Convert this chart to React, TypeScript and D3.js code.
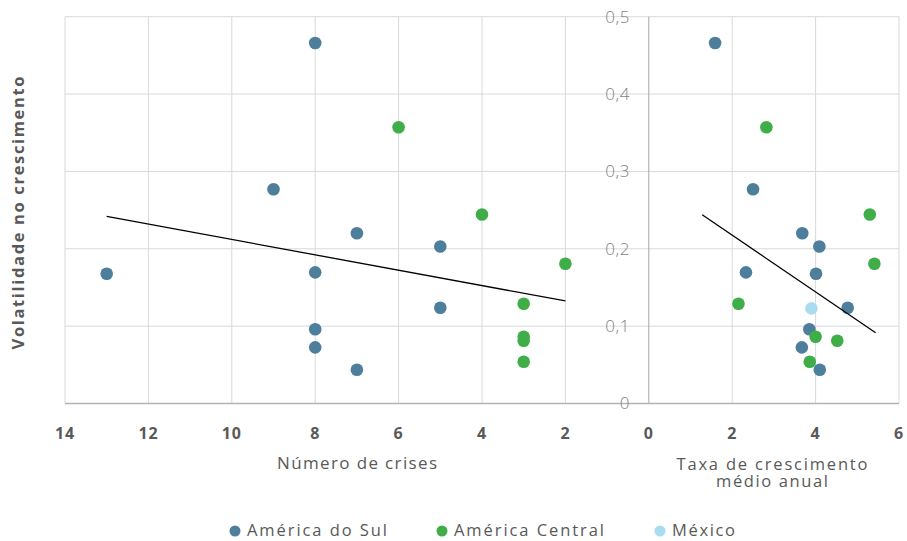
import React from "react";
import * as d3 from "d3";

// Volatility of growth vs. number of crises (left, reversed) and average annual growth (right)
const southCrises = [8, 9, 7, 5, 8, 13, 5, 8, 8, 7];
const southGrowth = [1.59, 2.5, 3.68, 4.09, 2.33, 4.01, 4.77, 3.85, 3.67, 4.1];
const southVol = [0.466, 0.277, 0.22, 0.203, 0.1695, 0.1677, 0.1238, 0.096, 0.0726, 0.0437];

const centralCrises = [6, 4, 2, 3, 3, 3, 3];
const centralGrowth = [2.82, 5.3, 5.41, 2.15, 4.0, 4.52, 3.86];
const centralVol = [0.357, 0.2444, 0.1806, 0.129, 0.0862, 0.0811, 0.054];

const mexicoGrowth = [3.9];
const mexicoVol = [0.123];

// Linear trend endpoints for each panel
const crisesTrendX = [13, 2];
const crisesTrendY = [0.2418, 0.1326];
const growthTrendX = [1.28, 5.44];
const growthTrendY = [0.244, 0.0915];

const xTicks = [-14, -12, -10, -8, -6, -4, -2, 0, 2, 4, 6];
const yTicks = [0, 0.1, 0.2, 0.3, 0.4, 0.5];
const yTickLabels = ["0", "0,1", "0,2", "0,3", "0,4", "0,5"];

const seriesNames = ["América do Sul", "América Central", "México"];
const seriesColors = ["#4d7f9c", "#3fae49", "#aadcf0"];

const W = 907;
const H = 541;
const FONT = "'Open Sans', 'DejaVu Sans', sans-serif";

export default function App() {
  const x = d3.scaleLinear().domain([-14, 6]).range([65, 899]);
  const y = d3.scaleLinear().domain([0, 0.5]).range([403.5, 16.7]);
  const line = d3
    .line<[number, number]>()
    .x((d) => x(d[0]))
    .y((d) => y(d[1]));

  const left = (c: number[], v: number[]) => c.map((d, i) => [-d, v[i]] as [number, number]);
  const right = (g: number[], v: number[]) => g.map((d, i) => [d, v[i]] as [number, number]);

  const groups: { pts: [number, number][]; color: string }[] = [
    { pts: [...left(southCrises, southVol), ...right(southGrowth, southVol)], color: seriesColors[0] },
    { pts: [...left(centralCrises, centralVol), ...right(centralGrowth, centralVol)], color: seriesColors[1] },
    { pts: right(mexicoGrowth, mexicoVol), color: seriesColors[2] },
  ];

  const trendLeft = crisesTrendX.map((d, i) => [-d, crisesTrendY[i]] as [number, number]);
  const trendRight = growthTrendX.map((d, i) => [d, growthTrendY[i]] as [number, number]);

  const legendX = [235, 442, 660];
  const legendLen = [140, 150, 63];

  return (
    <svg
      width={W}
      height={H}
      style={{ position: "absolute", left: 0, top: 0, background: "#fff" }}
      fontFamily={FONT}
    >
      {/* grid */}
      {xTicks
        .filter((t) => t !== 0)
        .map((t) => (
          <line key={"gx" + t} x1={x(t)} x2={x(t)} y1={y(0.5)} y2={y(0)} stroke="#d9d9d9" strokeWidth={1} />
        ))}
      {yTicks
        .filter((t) => t !== 0)
        .map((t) => (
          <line key={"gy" + t} x1={x(-14)} x2={x(6)} y1={y(t)} y2={y(t)} stroke="#d9d9d9" strokeWidth={1} />
        ))}
      {/* axes */}
      <line x1={x(0)} x2={x(0)} y1={y(0.5)} y2={y(0)} stroke="#a6a6a6" strokeWidth={1} />
      <line x1={x(-14)} x2={x(6)} y1={y(0)} y2={y(0)} stroke="#b3b3b3" strokeWidth={1.3} />

      {/* y tick labels */}
      {yTicks.map((t, i) => (
        <text
          key={"yl" + t}
          x={630}
          y={y(t)}
          dy="0.35em"
          textAnchor="end"
          fontSize={17}
          fontWeight={300}
          letterSpacing={0.6}
          fill="#7f7f7f"
        >
          {yTickLabels[i]}
        </text>
      ))}
      {/* x tick labels */}
      {xTicks.map((t) => (
        <text
          key={"xl" + t}
          x={x(t)}
          y={433}
          dy="0.35em"
          textAnchor="middle"
          fontSize={16}
          fontWeight={700}
          letterSpacing={0.8}
          fill="#595959"
        >
          {Math.abs(t)}
        </text>
      ))}

      {/* points */}
      {groups.map((g, gi) =>
        g.pts.map((p, i) => (
          <circle key={"p" + gi + "-" + i} cx={x(p[0])} cy={y(p[1])} r={6.3} fill={g.color} />
        ))
      )}

      {/* trend lines */}
      <path d={line(trendLeft) || ""} fill="none" stroke="#000" strokeWidth={1.3} />
      <path d={line(trendRight) || ""} fill="none" stroke="#000" strokeWidth={1.3} />

      {/* axis titles */}
      <text
        transform="translate(18,213) rotate(-90)"
        textAnchor="middle"
        dy="0.35em"
        fontSize={16.5}
        fontWeight={700}
        fill="#595959"
        textLength={273}
        lengthAdjust="spacing"
      >
        Volatilidade no crescimento
      </text>
      <text
        x={357}
        y={463}
        dy="0.35em"
        textAnchor="middle"
        fontSize={17}
        fill="#595959"
        textLength={160}
        lengthAdjust="spacing"
      >
        Número de crises
      </text>
      <text textAnchor="middle" fontSize={16.5} fill="#595959">
        <tspan x={772} y={469.5} textLength={191} lengthAdjust="spacing">
          Taxa de crescimento
        </tspan>
        <tspan x={772} y={487} textLength={112} lengthAdjust="spacing">
          médio anual
        </tspan>
      </text>

      {/* legend */}
      {seriesNames.map((n, i) => (
        <g key={"lg" + i}>
          <circle cx={legendX[i]} cy={531} r={5.5} fill={seriesColors[i]} />
          <text
            x={legendX[i] + 12}
            y={530.5}
            dy="0.35em"
            fontSize={16.5}
            fill="#595959"
            textLength={legendLen[i]}
            lengthAdjust="spacing"
          >
            {n}
          </text>
        </g>
      ))}
    </svg>
  );
}
